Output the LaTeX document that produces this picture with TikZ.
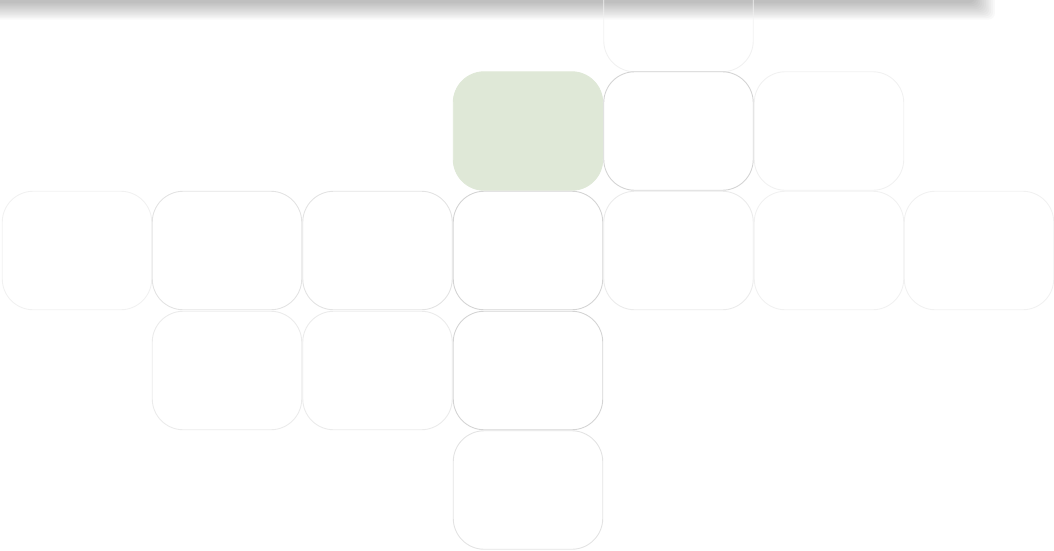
\documentclass[tikz,border=0pt]{standalone}
\usetikzlibrary{positioning}
\definecolor{greenfill}{HTML}{DFE8D7}
\definecolor{edgeA}{HTML}{D4D4D4}
\definecolor{edgeB}{HTML}{E3E3E3}
\definecolor{edgeC}{HTML}{EBEBEB}
\definecolor{edgeD}{HTML}{F1F1F1}
\tikzset{
  cell/.style={rectangle, rounded corners=31pt, minimum width=149.5pt, minimum height=118.5pt, inner sep=0pt, line width=0.9pt, draw=edgeB},
  cellA/.style={cell, draw=edgeA},
  cellC/.style={cell, draw=edgeC},
  cellD/.style={cell, draw=edgeD},
  greencell/.style={cell, draw=greenfill, fill=greenfill},
}
\begin{document}
\begin{tikzpicture}[x=1pt,y=-1pt]
\useasboundingbox (0,0) rectangle (1054,550);
% shadow band along the top
\foreach \k in {0,...,11}{
  \fill[black, opacity=0.025, rounded corners=6pt] (-30,-30) rectangle ({975+\k*1.8},{3+\k*1.5});
}
\node[cellD] (r0c5) at (678.5,12.5) {};
\node[greencell] (r1c4) at (528,131) {};
\node[cellA] (r1c5) at (678.5,131) {};
\node[cellD] (r1c6) at (829,131) {};
\node[cellD] (r2c0) at (77,250.5) {};
\node[cell] (r2c1) at (227,250.5) {};
\node[cell] (r2c2) at (377.5,250.5) {};
\node[cellA] (r2c3) at (528,250.5) {};
\node[cellC] (r2c4) at (678.5,250.5) {};
\node[cellD] (r2c5) at (829,250.5) {};
\node[cellD] (r2c6) at (979,250.5) {};
\node[cellC] (r3c1) at (227,370.5) {};
\node[cellC] (r3c2) at (377.5,370.5) {};
\node[cellA] (r3c3) at (528,370.5) {};
\node[cell] (r4c3) at (528,490) {};
\end{tikzpicture}
\end{document}
